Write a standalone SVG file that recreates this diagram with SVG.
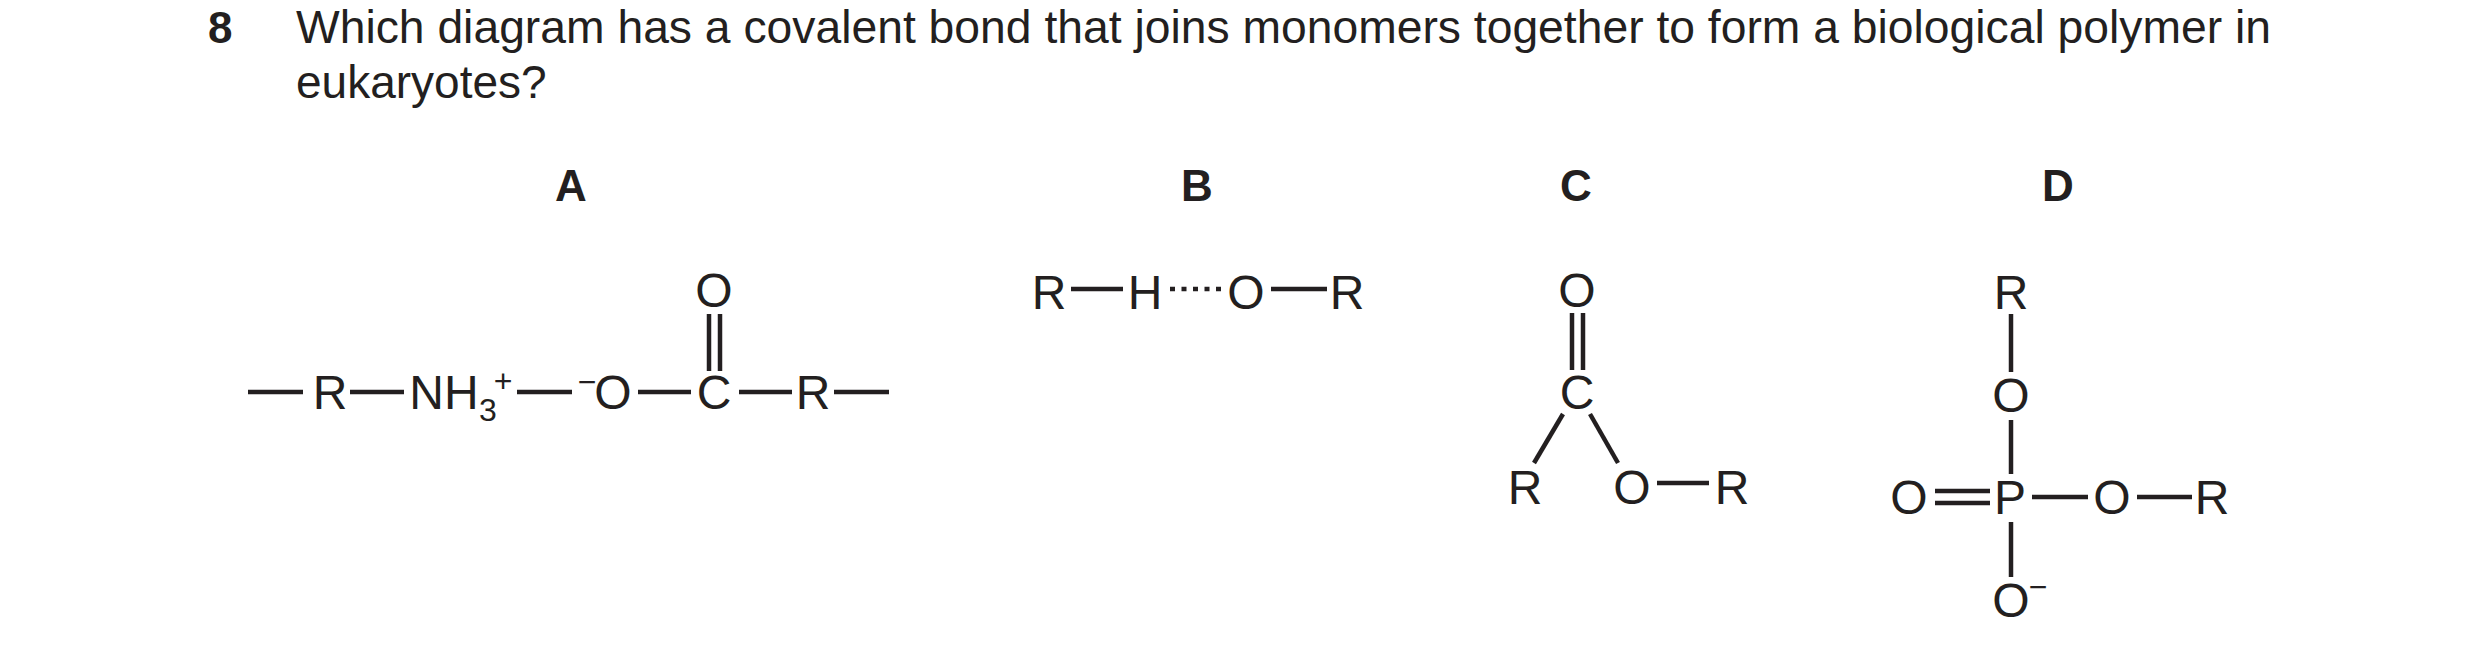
<svg xmlns="http://www.w3.org/2000/svg" width="2480" height="657" viewBox="0 0 2480 657">
<style>
text{font-family:"Liberation Sans",Arial,sans-serif;fill:#231f20}
.q{font-size:46px}
.n{font-size:44px;font-weight:bold}
.l{font-size:44px;font-weight:bold;text-anchor:middle}
.c{font-size:48px;text-anchor:middle}
.s{font-size:32px;text-anchor:middle}
line{stroke:#231f20;stroke-width:4.5}
.d{stroke-dasharray:5 6.5}
</style>
<rect width="2480" height="657" fill="#fff"/>
<g id="question">
<text class="n" x="208" y="43">8</text>
<text class="q" x="296" y="43" textLength="1975" lengthAdjust="spacingAndGlyphs">Which diagram has a covalent bond that joins monomers together to form a biological polymer in</text>
<text class="q" x="296" y="98">eukaryotes?</text>
</g>
<g id="labels">
<text class="l" x="571" y="201">A</text>
<text class="l" x="1197" y="201">B</text>
<text class="l" x="1576" y="201">C</text>
<text class="l" x="2058" y="201">D</text>
</g>
<g id="A">
<text class="c" x="330" y="409">R</text>
<text class="c" x="444" y="409">NH</text>
<text class="s" x="488" y="421">3</text>
<text class="s" x="503" y="392">+</text>
<text class="s" x="587" y="393">−</text>
<text class="c" x="613" y="409">O</text>
<text class="c" x="714" y="409">C</text>
<text class="c" x="813" y="409">R</text>
<text class="c" x="714" y="307">O</text>
</g>
<g id="B">
<text class="c" x="1049" y="309">R</text>
<text class="c" x="1145" y="309">H</text>
<text class="c" x="1246" y="309">O</text>
<text class="c" x="1347" y="309">R</text>
</g>
<g id="C">
<text class="c" x="1577" y="307">O</text>
<text class="c" x="1577" y="409">C</text>
<text class="c" x="1525" y="504">R</text>
<text class="c" x="1632" y="504">O</text>
<text class="c" x="1732" y="504">R</text>
</g>
<g id="D">
<text class="c" x="2011" y="309">R</text>
<text class="c" x="2011" y="412">O</text>
<text class="c" x="2010" y="514">P</text>
<text class="c" x="1909" y="514">O</text>
<text class="c" x="2112" y="514">O</text>
<text class="c" x="2212" y="514">R</text>
<text class="c" x="2011" y="617">O</text>
<text class="s" x="2038" y="598">−</text>
</g>
<g id="connectors">
<line x1="248" y1="392" x2="303" y2="392"/>
<line x1="350" y1="392" x2="404" y2="392"/>
<line x1="517" y1="392" x2="572" y2="392"/>
<line x1="638" y1="392" x2="691" y2="392"/>
<line x1="739" y1="392" x2="792" y2="392"/>
<line x1="834" y1="392" x2="889" y2="392"/>
<line x1="709" y1="314" x2="709" y2="371"/>
<line x1="720" y1="314" x2="720" y2="371"/>
<line x1="1071" y1="289" x2="1123" y2="289"/>
<line class="d" x1="1170" y1="289" x2="1226" y2="289"/>
<line x1="1271" y1="289" x2="1327" y2="289"/>
<line x1="1572" y1="313" x2="1572" y2="370"/>
<line x1="1583" y1="313" x2="1583" y2="370"/>
<line x1="1563" y1="414" x2="1534" y2="463"/>
<line x1="1590" y1="414" x2="1618" y2="463"/>
<line x1="1657" y1="483" x2="1709" y2="483"/>
<line x1="2011" y1="314" x2="2011" y2="372"/>
<line x1="2011" y1="420" x2="2011" y2="474"/>
<line x1="1935" y1="491" x2="1990" y2="491"/>
<line x1="1935" y1="503" x2="1990" y2="503"/>
<line x1="2032" y1="497" x2="2088" y2="497"/>
<line x1="2137" y1="497" x2="2192" y2="497"/>
<line x1="2011" y1="522" x2="2011" y2="577"/>
</g>
</svg>
